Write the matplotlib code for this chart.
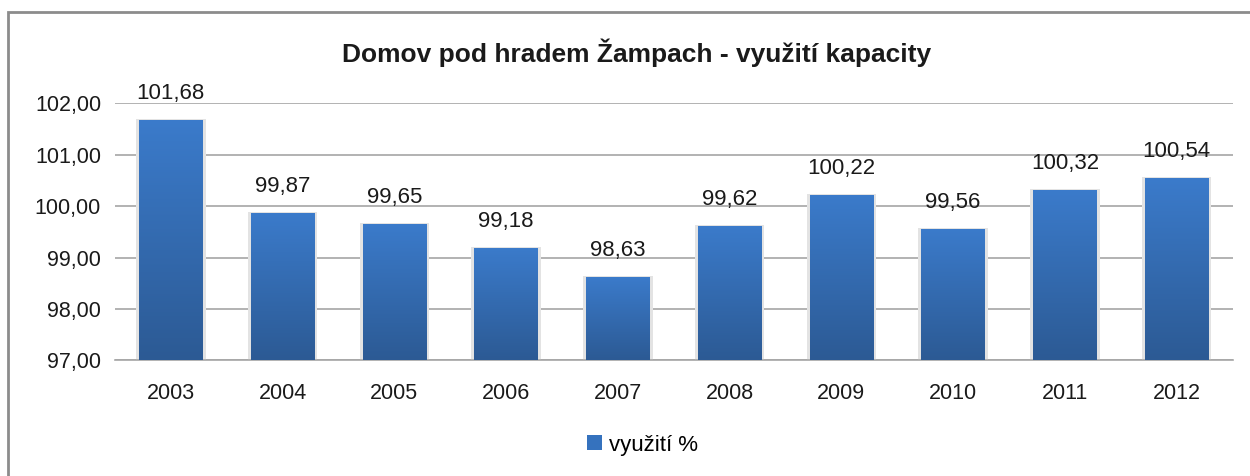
import numpy as np
import matplotlib.pyplot as plt
from matplotlib.patches import Rectangle
from matplotlib.colors import LinearSegmentedColormap

# data
years = ['2003', '2004', '2005', '2006', '2007', '2008', '2009', '2010', '2011', '2012']
vyuziti = [101.68, 99.87, 99.65, 99.18, 98.63, 99.62, 100.22, 99.56, 100.32, 100.54]
yticks = [97, 98, 99, 100, 101, 102]

plt.rcParams['font.family'] = ['Liberation Sans', 'DejaVu Sans']

fig = plt.figure(figsize=(12.5, 4.76), dpi=100)
ax = fig.add_axes([0.092, 0.243, 0.894, 0.54])

ymin, ymax = 97, 102

# gradient fill for bars: lighter on top, darker at bottom
cmap = LinearSegmentedColormap.from_list('bar', ['#2c5a94', '#3b7bcb'])
grad = np.linspace(0, 1, 256).reshape(-1, 1)
width = 0.57
x = np.arange(len(years))
bars = ax.bar(x, np.array(vyuziti) - ymin, width, bottom=ymin, color='#3572be',
              edgecolor='none', zorder=3)
for b, v in zip(bars, vyuziti):
    x0 = b.get_x()
    im = ax.imshow(grad, cmap=cmap, origin='lower', aspect='auto',
                   extent=[x0, x0 + width, ymin, v], zorder=3.5)
    im.set_clip_path(b)
    # soft shadow around bar
    ax.add_patch(Rectangle((x0 - 0.025, ymin), width + 0.05, v - ymin + 0.02,
                           facecolor='#e3e3e3', edgecolor='none', zorder=2.5))
    ax.text(b.get_x() + width / 2, v + 0.31, f'{v:.2f}'.replace('.', ','),
            ha='center', va='bottom', fontsize=16, color='#1a1a1a', zorder=5)

ax.set_ylim(ymin, ymax)
ax.set_xlim(-0.5, len(years) - 0.5)
ax.set_yticks(yticks)
ax.set_yticklabels([f'{t:.2f}'.replace('.', ',') for t in yticks], fontsize=15.5, color='#1a1a1a')
ax.set_xticks(x)
ax.set_xticklabels(years, fontsize=15.5, color='#1a1a1a')
ax.tick_params(length=0, pad=10)
ax.tick_params(axis='x', pad=16)
ax.yaxis.grid(True, color='#a6a6a6', linewidth=1.2, zorder=1)
ax.set_axisbelow(True)
for s in ['top', 'right', 'left']:
    ax.spines[s].set_visible(False)
ax.spines['bottom'].set_color('#a6a6a6')
ax.spines['bottom'].set_linewidth(1.2)

fig.text(0.509, 0.89, 'Domov pod hradem Žampach - využití kapacity',
         ha='center', va='center', fontsize=19, fontweight='bold', color='#1a1a1a')

# legend
leg_handle = Rectangle((0, 0), 1, 1, facecolor='#3572be', edgecolor='none')
fig.legend([leg_handle], ['využití %'], loc='center', bbox_to_anchor=(0.514, 0.065),
           frameon=False, fontsize=16, handlelength=0.65, handleheight=0.65,
           handletextpad=0.3)

# chart border
fig.patches.append(Rectangle((8 / 1250, -0.1), 1.2, 1 - 12 / 476 + 0.1,
                             transform=fig.transFigure, fill=False,
                             edgecolor='#8c8c8c', linewidth=2))

fig.savefig('out.png', dpi=100)
